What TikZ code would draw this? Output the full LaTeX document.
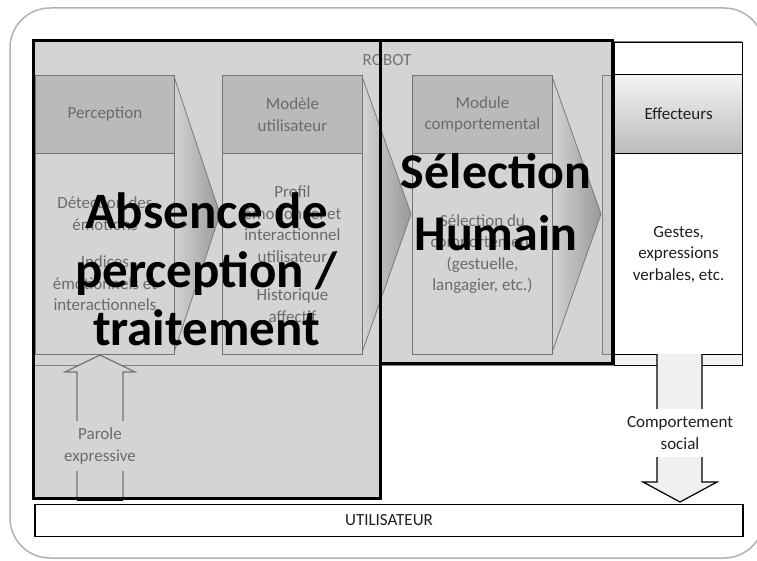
\documentclass[tikz,border=0pt]{standalone}
\usepackage{fontspec}
\setmainfont{Carlito}
\begin{document}
\begin{tikzpicture}[x=1pt,y=-1pt,
  every node/.style={inner sep=0pt},
  graytxt/.style={text=black!58, font=\fontsize{17}{21.5}\selectfont, align=center},
  blacktxt/.style={text=black!88, font=\fontsize{17}{21.5}\selectfont, align=center},
  colhead/.style={graytxt, draw=black!55, fill=black!27, line width=0.9pt, minimum width=139pt, minimum height=78pt, anchor=north west},
  colbody/.style={graytxt, draw=black!55, fill=black!17, line width=0.9pt, minimum width=139pt, minimum height=201pt, anchor=north west},
  chevfill/.style={left color=black!17, right color=black!40},
  chevline/.style={draw=black!52, line width=0.8pt},
  bigbox/.style={draw=black, line width=3pt, font=\fontsize{51}{58.5}\selectfont\bfseries, align=center, text=black},
  blockup/.style={fill=black!17, draw=black!55, line width=1.2pt},
  blockdown/.style={fill=black!6, draw=black, line width=1.2pt}
]
\useasboundingbox (0,0) rectangle (757,561);
% outer frame
\draw[black!30, line width=1.5pt, rounded corners=40pt] (10,8) rectangle (764,558);

% robot background
\fill[black!17] (33,365) rectangle (380,498);
\draw[fill=black!17, draw=black!50, line width=0.8pt] (33,41) rectangle (741,365);
\node[text=black!55, font=\fontsize{17}{20}\selectfont] (robot) at (387,60) {ROBOT};

% tips of the chevrons
\coordinate (tip1) at (220,214);
\coordinate (tip2) at (411,214);
\coordinate (tip3) at (601,214);

% column nodes (placed first, drawn later via pgfonlayer-free ordering)
\path (35,75) node[colhead, draw=none, fill=none, text opacity=0] (perH0) {};
\path (35,153) node[colbody, minimum height=201pt, draw=none, fill=none] (perB0) {};

% chevrons
\shade[chevfill] (173.5,75) -- (tip1) -- (173.5,354) -- cycle;
\draw[chevline] (173.5,75) -- (tip1) -- (173.5,354);
\shade[chevfill] (361.5,75) -- (tip2) -- (361.5,354) -- cycle;
\draw[chevline] (361.5,75) -- (tip2) -- (361.5,354);
\shade[chevfill] (551.5,75) -- (tip3) -- (551.5,354) -- cycle;
\draw[chevline] (551.5,75) -- (tip3) -- (551.5,354);

% columns
\node[colhead] (perH) at (35,75) {Perception};
\node[colbody] (perB) at (35,153) {Détection des\\émotions\\[16pt]Indices\\émotionnels et\\interactionnels};
\node[colhead, minimum width=140pt] (modH) at (222,75) {Modèle\\utilisateur};
\node[colbody, minimum width=140pt] (modB) at (222,153) {Profil\\émotionnel et\\interactionnel\\utilisateur\\[17pt]Historique\\affectif};
\node[colhead, minimum width=140pt] (comH) at (412,75) {Module\\comportemental};
\node[colbody, minimum width=140pt] (comB) at (412,153) {Sélection du\\comportement\\(gestuelle,\\langagier, etc.)};

% effecteurs
\draw[fill=black!20, draw=black!50, line width=0.8pt] (602,75) rectangle (616,354);
\node[draw=black, fill=white, line width=1.2pt, minimum width=128pt, minimum height=323pt, anchor=north west] (effBox) at (614,42) {};
\fill[black!5] (615,355) rectangle (741,364);
\node[blacktxt, draw=black, line width=1.2pt, top color=black!4, bottom color=black!27, minimum width=128pt, minimum height=79pt, anchor=north west] (effH) at (614,74) {Effecteurs};
\node[blacktxt, draw=black, fill=white, line width=1.2pt, minimum width=128pt, minimum height=201pt, anchor=north west] (effB) at (614,153) {Gestes,\\expressions\\verbales, etc.};

% Parole expressive arrow
\coordinate (paroleTip) at (100,355);
\draw[blockup] (77,500) -- (77,372) -- (65,372) -- (paroleTip) -- (135,372) -- (123,372) -- (123,500);
\node[graytxt, fill=black!17, inner xsep=4pt, inner ysep=7pt] (parole) at (100,446) {Parole\\expressive};
\draw[line width=4pt] (77,498.5) -- (123,498.5);

% Comportement social arrow
\coordinate (compTip) at (680,502);
\draw[blockdown] (657,354) -- (657,482) -- (643,482) -- (compTip) -- (717,482) -- (702,482) -- (702,354);
\node[blacktxt, fill=white, inner xsep=3pt, inner ysep=7.5pt] (comp) at (680,433) {Comportement\\social};

% thick overlay boxes with big labels
\node[bigbox, minimum width=347pt, minimum height=457pt] (absence) at (206.5,269.5) {Absence de\\perception /\\traitement};
\node[bigbox, font=\fontsize{50}{62}\selectfont\bfseries, minimum width=232pt, minimum height=322pt] (selection) at (496,202) {Sélection\\Humain};

% utilisateur
\node[blacktxt, draw=black, fill=white, line width=1.2pt, minimum width=708pt, minimum height=32pt, font=\fontsize{17}{20}\selectfont] (user) at (389,520.5) {UTILISATEUR};
\end{tikzpicture}
\end{document}
